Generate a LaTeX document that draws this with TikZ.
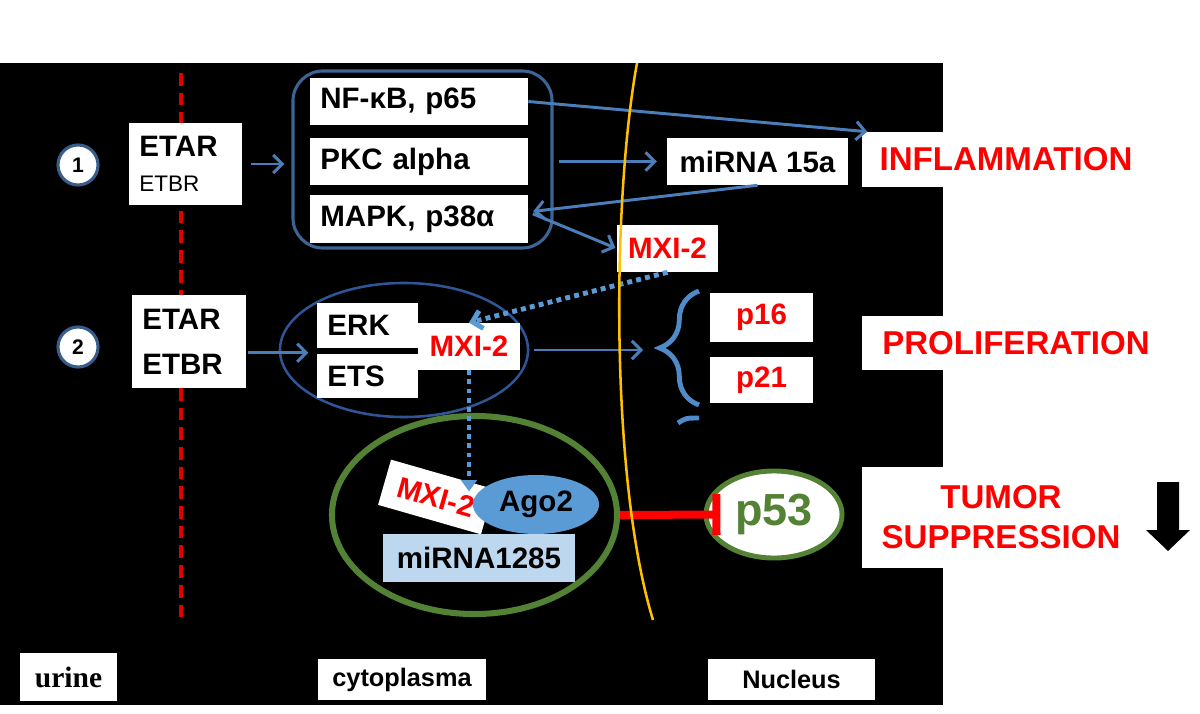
\documentclass[tikz,border=0pt]{standalone}
\usepackage{fontspec}
\setmainfont{Liberation Sans}
\newfontfamily\serifface{Liberation Serif}
\usetikzlibrary{arrows.meta,shapes.geometric,decorations.pathreplacing}

\definecolor{arrblue}{HTML}{4A7EBB}
\definecolor{grpblue}{HTML}{3C6494}
\definecolor{ellblue}{HTML}{2F5597}
\definecolor{dotblue}{HTML}{5B9BD5}
\definecolor{braceblue}{HTML}{4F8AC9}
\definecolor{numblue}{HTML}{385D8A}
\definecolor{mirblue}{HTML}{BDD7EE}
\definecolor{cellgreen}{HTML}{548235}
\definecolor{membgold}{HTML}{FFC000}
\definecolor{dashred}{HTML}{E00000}

\tikzset{
  wbox/.style={fill=white, inner sep=0pt, font=\bfseries\fontsize{21}{25}\selectfont},
  lbox/.style={wbox, align=left, inner xsep=0.26cm},
  effect/.style={fill=white, inner sep=0pt, text=red, align=center, font=\bfseries\fontsize{23.5}{28.5}\selectfont},
  place/.style={fill=white, inner sep=0pt, font=\bfseries\fontsize{18}{22}\selectfont},
  num/.style={circle, fill=white, draw=numblue, line width=2.2pt, minimum size=1.0cm, inner sep=0pt, font=\bfseries\fontsize{15}{17}\selectfont},
  conn/.style={draw=arrblue, line width=2.1pt, arrows=->},
  dots/.style={draw=dotblue, line width=3.5pt, dash pattern=on 3.5pt off 3pt},
}

\begin{document}
\begin{tikzpicture}[x=0.025cm, y=-0.025cm, >={Straight Barb[length=6.5pt,width=13pt]}]
\useasboundingbox (0,0) rectangle (1200,714);
\fill[white] (0,0) rectangle (1200,714);
\fill[black] (0,63) rectangle (943,705);
\draw[dashred, line width=2.5pt, dash pattern=on 9pt off 5pt] (181,73) -- (181,619);

\node[num] (n1) at (78,165) {1};
\node[num] (n2) at (78,347) {2};
\node[lbox, text width=2.305cm, minimum height=2.05cm] (recA) at (185.5,164) {\fontsize{21}{26}\selectfont ETAR\\ \mdseries\fontsize{16}{26}\selectfont ETBR};
\node[lbox, text width=2.33cm, minimum height=2.325cm, font=\bfseries\fontsize{21}{32}\selectfont] (recB) at (189,341.5) {ETAR\\ETBR};

\node[draw=grpblue, line width=2.2pt, rounded corners=0.75cm, minimum width=6.475cm, minimum height=4.425cm] (grp) at (422.5,159.5) {};
\node[lbox, text width=4.93cm, minimum height=1.175cm] (nfkb) at (419,101.5) {NF-κB, p65};
\node[lbox, text width=4.93cm, minimum height=1.175cm] (pkc) at (419,161.5) {PKC alpha};
\node[lbox, text width=4.93cm, minimum height=1.175cm] (mapk) at (419,219) {MAPK, p38α};
\node[wbox, minimum width=4.525cm, minimum height=1.175cm] (mirA) at (757.5,161.5) {miRNA 15a};
\node[wbox, text=red, minimum width=2.525cm, minimum height=1.175cm] (mxiA) at (667.5,248.5) {MXI-2};

\node[ellipse, draw=ellblue, line width=1.8pt, minimum width=6.2cm, minimum height=3.35cm, inner sep=0pt] (ellB) at (404,350) {};
\node[lbox, text width=2.0cm, minimum height=1.125cm] (erk) at (367.5,325.5) {ERK};
\node[lbox, text width=2.0cm, minimum height=1.1cm] (ets) at (367.5,376) {ETS};
\node[wbox, text=red, minimum width=2.55cm, minimum height=1.175cm] (mxiB) at (469,346.5) {MXI-2};
\node[wbox, text=red, minimum width=2.575cm, minimum height=1.2cm] (p16) at (761.5,317.5) {p16};
\node[wbox, text=red, minimum width=2.575cm, minimum height=1.15cm] (p21) at (761.5,380) {p21};

\node[ellipse, draw=cellgreen, line width=4.3pt, minimum width=7.125cm, minimum height=4.95cm, inner sep=0pt] (grnEll) at (474.5,515) {};
\node[wbox, text=red, rotate=-16, minimum width=2.675cm, minimum height=1.175cm] (mxiC) at (436,497) {MXI-2};
\node[ellipse, fill=dotblue, minimum width=3.15cm, minimum height=1.475cm, inner sep=0pt, font=\bfseries\fontsize{21}{25}\selectfont] (ago) at (536,504.5) {Ago2};
\node[wbox, fill=mirblue, minimum width=4.8cm, minimum height=1.2cm] (mir) at (479,558) {miRNA1285};
\node[ellipse, fill=white, draw=cellgreen, line width=3.5pt, minimum width=3.4cm, minimum height=2.175cm, inner sep=0pt, text=cellgreen, font=\bfseries\fontsize{32}{36}\selectfont] (p53) at (774,514.5) {p53};

\node[effect, minimum width=7.2cm, minimum height=1.375cm] (infl) at (1006,159.5) {INFLAMMATION};
\node[effect, minimum width=7.7cm, minimum height=1.35cm] (prolif) at (1016,343) {PROLIFERATION};
\node[effect, minimum width=6.95cm, minimum height=2.525cm] (tumor) at (1001,517.5) {TUMOR\\SUPPRESSION};
\fill[black] (1157,482) -- (1179,482) -- (1179,530) -- (1190,530) -- (1168,551) -- (1146,530) -- (1157,530) -- cycle;

\node[place, font=\serifface\bfseries\fontsize{21}{24}\selectfont, minimum width=2.425cm, minimum height=1.2cm] (urine) at (68.5,677) {urine};
\node[place, minimum width=4.2cm, minimum height=1.025cm] (cyto) at (402,679.5) {cytoplasma};
\node[place, minimum width=4.175cm, minimum height=1.025cm] (nuc) at (791.5,679.5) {Nucleus};

\coordinate (brtip) at (643,350);
\draw[decorate, decoration={brace, amplitude=28pt}, draw=braceblue, line width=3.5pt] (699,405) -- (699,291);
\draw[braceblue, line width=3.5pt] (678,423) .. controls (686,418) .. (699,418);

\draw[conn, shorten <=6pt, shorten >=5pt] (recA.east) -- (recA.east -| grp.west);
\draw[conn] (nfkb.east) -- ([xshift=4pt]infl.north west);
\draw[conn, shorten <=3.5pt, shorten >=7pt] (grp.east |- mirA.west) -- (mirA.west);
\draw[conn, shorten >=3.5pt] (mirA.south) -- ([yshift=5pt]mapk.east);
\draw[conn, shorten <=3.5pt, shorten >=1pt] ([yshift=5pt]mapk.east) -- (mxiA.west);
\draw[conn, shorten <=1pt, shorten >=6pt] ([yshift=-8pt]recB.east) -- ([yshift=-8pt]recB.east -| erk.west);
\draw[conn, shorten <=3pt] (ellB.east) -- (brtip);
\draw[dots, arrows=->] (mxiA.south) -- (mxiB.north);
\draw[dots, arrows=-{Triangle[length=8pt,width=11pt]}, shorten >=4pt] (mxiB.south) -- (mxiB.south |- mxiC.center);
\draw[red, line width=5.7pt, arrows=-{Bar[width=29pt]}] (grnEll.east) -- ([xshift=12pt]p53.west);

\draw[membgold, line width=1.8pt] (637,63) .. controls (612,200) and (610,480) .. (653,620);
\end{tikzpicture}
\end{document}
